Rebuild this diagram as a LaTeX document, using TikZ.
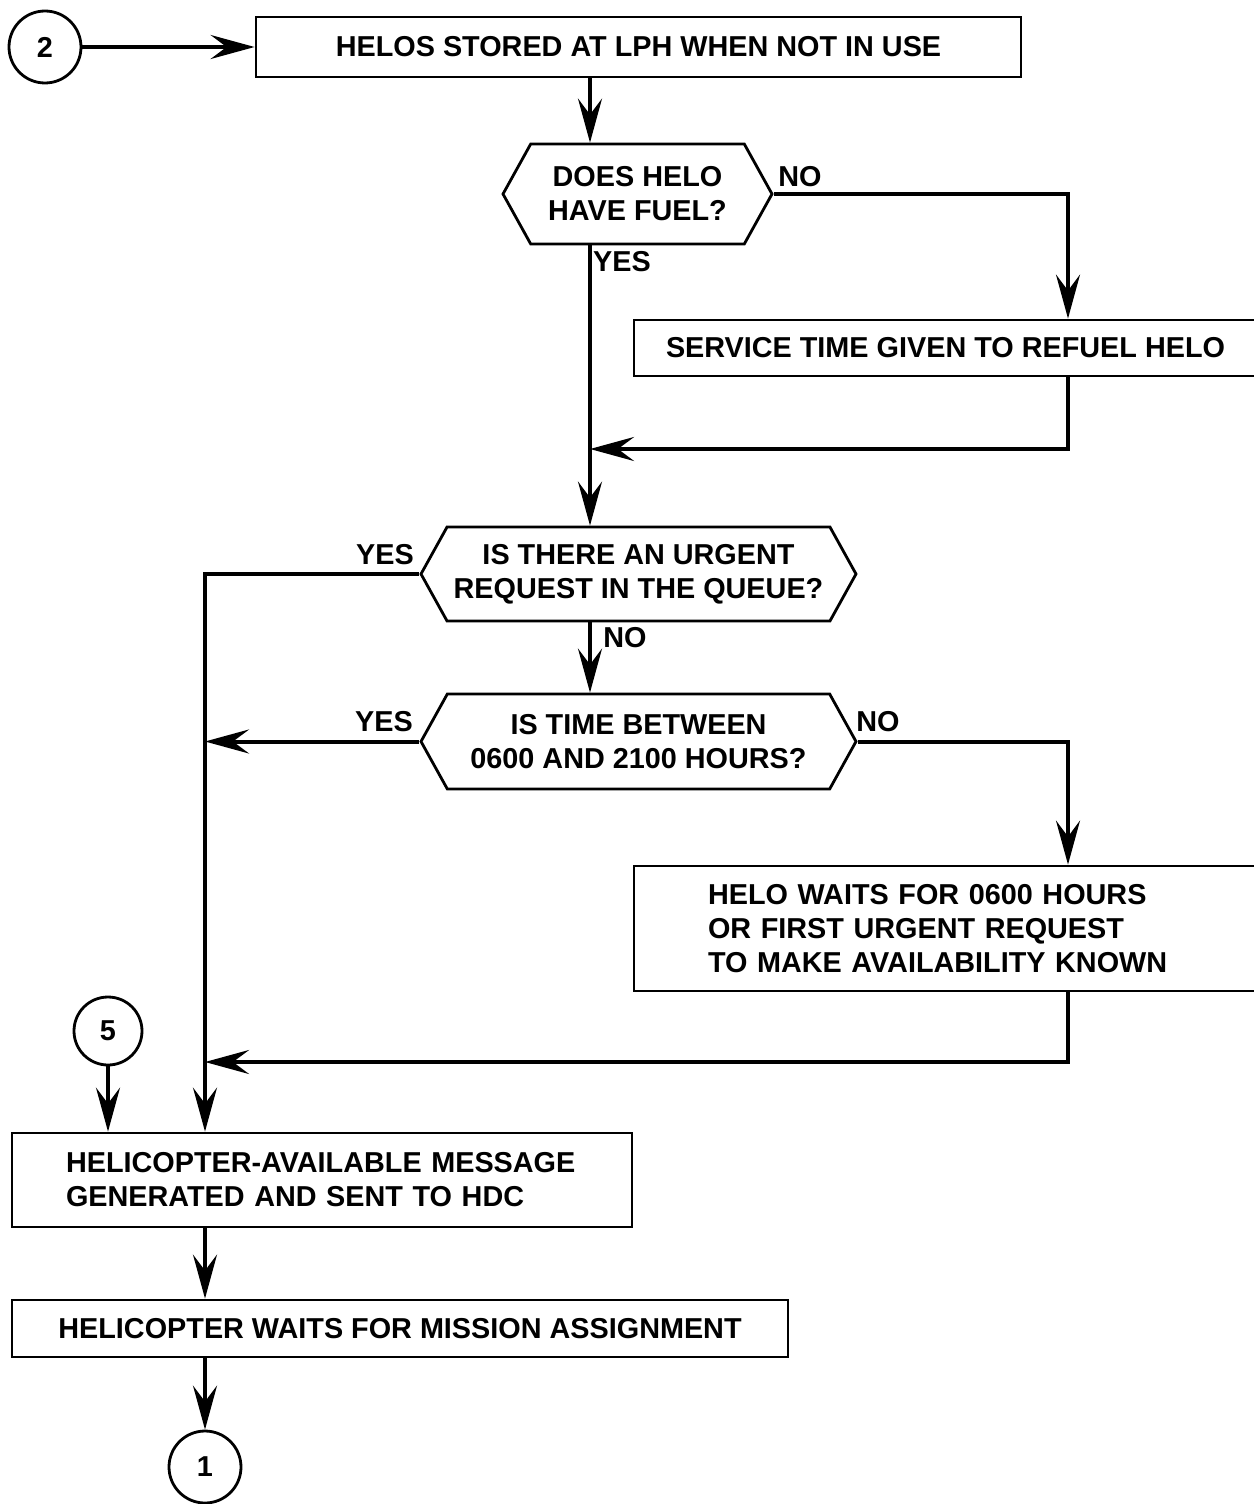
\documentclass[tikz,border=0pt]{standalone}
\usepackage{fontspec}
\setmainfont{Liberation Sans}
\usetikzlibrary{arrows.meta,shapes.symbols}

\begin{document}
\begin{tikzpicture}[x=0.5pt,y=-0.5pt,
    every node/.style={font=\bfseries\fontsize{14.4}{17}\selectfont},
    box/.style={draw,line width=1.4pt,rectangle,inner sep=0pt,align=center},
    decision/.style={draw,line width=1.4pt,signal,signal to=west and east,
      signal pointer angle=122,inner sep=0pt,align=center},
    conn/.style={draw,circle,line width=1.4pt,inner sep=0pt},
    flow/.style={line width=2pt,-{Stealth[length=22pt,width=12pt,inset=8pt]}}]
  \useasboundingbox (0,0) rectangle (1253,1504);

  \node[conn,minimum size=36pt] (c2) at (45,47) {2};
  \node[box,minimum width=382.5pt,minimum height=30pt] (store) at (638.5,47)
    {HELOS STORED AT LPH WHEN NOT IN USE};
  \node[decision,minimum width=134.5pt,minimum height=50pt] (fuel) at (637.5,194)
    {DOES HELO\\HAVE FUEL?};
  \node[box,minimum width=311.5pt,minimum height=28pt] (refuel) at (945.5,348)
    {SERVICE TIME GIVEN TO REFUEL HELO};
  \node[decision,minimum width=217.5pt,minimum height=47pt] (urgent) at (638.5,574)
    {IS THERE AN URGENT\\REQUEST IN THE QUEUE?};
  \node[decision,minimum width=217.5pt,minimum height=47.5pt] (hours) at (638.5,741.5)
    {IS TIME BETWEEN\\0600 AND 2100 HOURS?};
  \node[box,minimum height=62.5pt,text width=237.5pt,inner xsep=37pt,align=left] (wait) at (945.5,928.5)
    {HELO WAITS FOR 0600 HOURS\\OR FIRST URGENT REQUEST\\TO MAKE AVAILABILITY KNOWN};
  \node[conn,minimum size=34pt] (c5) at (108,1031) {5};
  \node[box,minimum height=47pt,text width=256pt,inner xsep=27pt,align=left] (msg) at (322,1180)
    {HELICOPTER-AVAILABLE MESSAGE\\GENERATED AND SENT TO HDC};
  \node[box,minimum width=388pt,minimum height=28.5pt] (assign) at (400,1328.5)
    {HELICOPTER WAITS FOR MISSION ASSIGNMENT};
  \node[conn,minimum size=36pt] (c1) at (205,1467) {1};

  \coordinate (spine) at (590,0);
  \coordinate (side) at (1068,0);
  \coordinate (rail) at (205,0);
  \coordinate (j1) at (590,449);
  \coordinate (j2) at (205,1062);

  \node (no1) at (800,177) {NO};
  \node (yes1) at (622,262) {YES};
  \node (yes2) at (385,555) {YES};
  \node (no2) at (625,638) {NO};
  \node (yes3) at (384,722) {YES};
  \node (no3) at (878,722) {NO};

  \draw[flow] (c2.east) -- (store.west);
  \draw[flow] (store.south -| spine) -- (fuel.north -| spine);
  \draw[flow] (fuel.east) -| (refuel.north -| side);
  \draw[flow] (refuel.south -| side) |- (j1);
  \draw[flow] (fuel.south -| spine) -- (urgent.north -| spine);
  \draw[flow] (urgent.west) -| (msg.north -| rail);
  \draw[flow] (urgent.south -| spine) -- (hours.north -| spine);
  \draw[flow] (hours.west) -- (hours.west -| rail);
  \draw[flow] (hours.east) -| (wait.north -| side);
  \draw[flow] (wait.south -| side) |- (j2);
  \draw[flow] (c5) -- (c5 |- msg.north);
  \draw[flow] (msg.south -| rail) -- (assign.north -| rail);
  \draw[flow] (assign.south -| rail) -- (c1);
\end{tikzpicture}
\end{document}
